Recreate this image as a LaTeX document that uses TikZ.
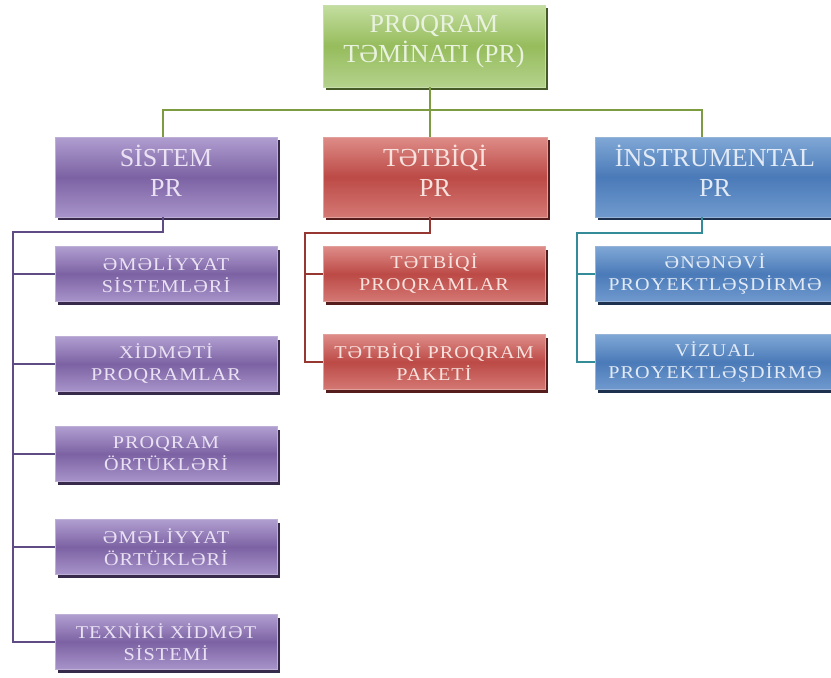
\documentclass[tikz,border=0pt]{standalone}
\usepackage{fontspec}
\setmainfont{Liberation Serif}
\usetikzlibrary{shadows}

% fills: top / middle / bottom of the glossy gradient, border, shadow, text
\definecolor{gtop}{RGB}{196,222,160}
\definecolor{gmid}{RGB}{150,188,92}
\definecolor{gbot}{RGB}{180,210,140}
\definecolor{gborder}{RGB}{200,222,170}
\definecolor{gshadow}{RGB}{70,90,40}
\definecolor{gtxt}{RGB}{232,242,222}
\definecolor{gline}{RGB}{125,155,65}

\definecolor{ptop}{RGB}{176,158,208}
\definecolor{pmid}{RGB}{124,98,163}
\definecolor{pbot}{RGB}{168,148,202}
\definecolor{pborder}{RGB}{190,175,215}
\definecolor{pshadow}{RGB}{55,42,75}
\definecolor{ptxt}{RGB}{234,226,244}
\definecolor{pline}{RGB}{96,76,132}

\definecolor{rtop}{RGB}{222,140,136}
\definecolor{rmid}{RGB}{188,74,70}
\definecolor{rbot}{RGB}{212,120,116}
\definecolor{rborder}{RGB}{225,160,155}
\definecolor{rshadow}{RGB}{85,30,28}
\definecolor{rtxt}{RGB}{248,226,222}
\definecolor{rline}{RGB}{150,55,50}

\definecolor{btop}{RGB}{128,168,214}
\definecolor{bmid}{RGB}{74,122,184}
\definecolor{bbot}{RGB}{112,154,206}
\definecolor{bborder}{RGB}{150,180,215}
\definecolor{bshadow}{RGB}{30,50,80}
\definecolor{btxt}{RGB}{226,234,246}
\definecolor{bline}{RGB}{52,140,152}

\tikzset{
  box/.style={rectangle, inner sep=0pt, align=center,
    draw=#1border, line width=0.8pt,
    shading=axis, top color=#1top, bottom color=#1bot, middle color=#1mid,
    general shadow={fill=#1shadow, shadow xshift=3pt, shadow yshift=-3pt},
    text=#1txt},
  headbox/.style={box=#1, minimum height=80pt},
  headtext/.style={inner sep=0pt, align=center, text=#1txt,
    font=\fontsize{26}{30}\selectfont},
  itembox/.style={box=#1, minimum height=55pt,
    font=\fontsize{18}{22}\selectfont\addfontfeature{FakeStretch=1.12,LetterSpace=6}},
  link/.style={draw=#1, line width=2pt}
}

\begin{document}
\begin{tikzpicture}[x=1pt,y=-1pt]
\useasboundingbox (0,0) rectangle (831,678);

% root
\node[headbox=g, minimum width=222pt, minimum height=82pt] (root) at (434,46) {};
\node[headtext=g] (rootT) at ([yshift=4pt]root.center) {PROQRAM\\TƏMİNATI (PR)};

% first level
\node[headbox=p, minimum width=222pt] (sys) at (166,177) {};
\node[headtext=p] (sysT) at ([yshift=6pt]sys.center) {SİSTEM\\PR};
\node[headbox=r, minimum width=224pt] (app) at (435,177) {};
\node[headtext=r] (appT) at ([yshift=6pt]app.center) {TƏTBİQİ\\PR};
\node[headbox=b, minimum width=240pt] (inst) at (715,177) {};
\node[headtext=b] (instT) at ([yshift=6pt]inst.center) {İNSTRUMENTAL\\PR};

% system software
\node[itembox=p, minimum width=222pt] (s1) at (166,274) {ƏMƏLİYYAT\\SİSTEMLƏRİ};
\node[itembox=p, minimum width=222pt] (s2) at (166,364) {XİDMƏTİ\\PROQRAMLAR};
\node[itembox=p, minimum width=222pt] (s3) at (166,454) {PROQRAM\\ÖRTÜKLƏRİ};
\node[itembox=p, minimum width=222pt] (s4) at (166,547) {ƏMƏLİYYAT\\ÖRTÜKLƏRİ};
\node[itembox=p, minimum width=222pt] (s5) at (166,642) {TEXNİKİ XİDMƏT\\SİSTEMİ};

% application software
\node[itembox=r, minimum width=222pt] (a1) at (434,274) {TƏTBİQİ\\PROQRAMLAR};
\node[itembox=r, minimum width=222pt] (a2) at (434,362) {TƏTBİQİ PROQRAM\\PAKETİ};

% tool software
\node[itembox=b, minimum width=240pt] (i1) at (715,274) {ƏNƏNƏVİ\\PROYEKTLƏŞDİRMƏ};
\node[itembox=b, minimum width=240pt] (i2) at (715,362) {VİZUAL\\PROYEKTLƏŞDİRMƏ};

% bus under the root
\coordinate (topbus) at (430,110);
\draw[link=gline] ([xshift=-4pt]root.south) -- ([xshift=-4pt]root.south |- topbus);
\draw[link=gline] ([xshift=-3pt]sys.north) |- ([xshift=-13pt]inst.north |- topbus) -- ([xshift=-13pt]inst.north);
\draw[link=gline] ([xshift=-5pt]app.north) -- ([xshift=-5pt]app.north |- topbus);

% system branch
\coordinate (sysbus) at (13,232);
\draw[link=pline] ([xshift=-3pt]sys.south) |- (sysbus) |- (s5.west);
\foreach \n in {s1,s2,s3,s4}
  \draw[link=pline] (sysbus |- \n.west) -- (\n.west);

% application branch
\coordinate (appbus) at (305,233);
\draw[link=rline] ([xshift=-5pt]app.south) |- (appbus) |- (a2.west);
\draw[link=rline] (appbus |- a1.west) -- (a1.west);

% tool branch
\coordinate (instbus) at (577,233);
\draw[link=bline] ([xshift=-13pt]inst.south) |- (instbus) |- (i2.west);
\draw[link=bline] (instbus |- i1.west) -- (i1.west);
\end{tikzpicture}
\end{document}
